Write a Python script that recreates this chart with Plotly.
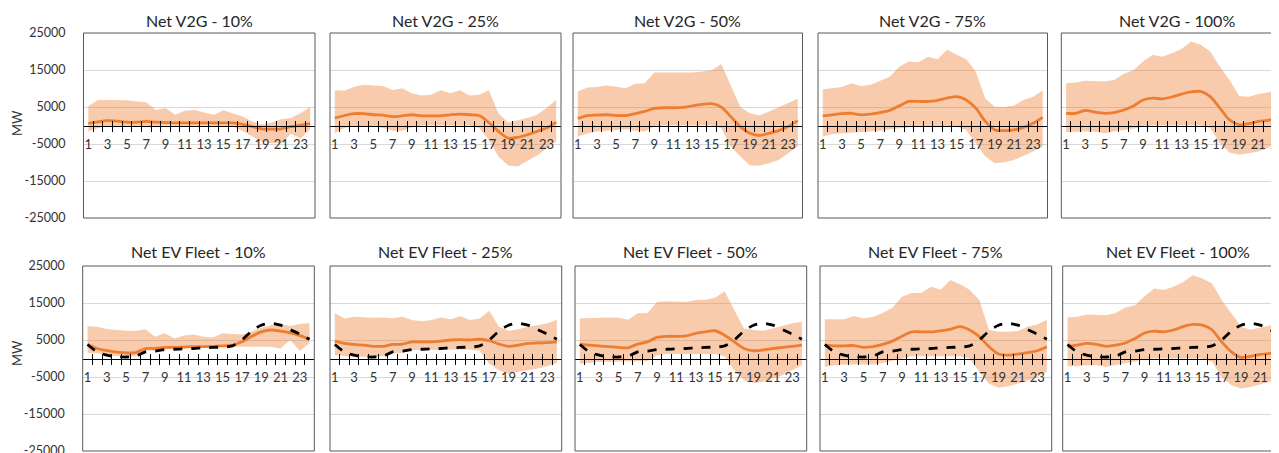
import plotly.graph_objects as go

# ---------------- data ----------------
hours = list(range(1, 25))
x_tick_labels = [str(h) for h in hours if h % 2 == 1]
y_ticks = [-25000, -15000, -5000, 5000, 15000, 25000]
y_tick_labels = [str(v) for v in y_ticks]

titles_top = ["Net V2G - 10%", "Net V2G - 25%", "Net V2G - 50%", "Net V2G - 75%", "Net V2G - 100%"]
titles_bottom = ["Net EV Fleet - 10%", "Net EV Fleet - 25%", "Net EV Fleet - 50%",
                 "Net EV Fleet - 75%", "Net EV Fleet - 100%"]

v2g_10_mean = [600, 1000, 1300, 1200, 900, 900, 1100, 900, 800, 700, 700, 700, 700, 700, 700, 700, 300, -300, -900, -1000, -900, -300, 100, 500]
v2g_10_upper = [5300, 6900, 6900, 6900, 6800, 6500, 6300, 4200, 4700, 2900, 4000, 4200, 3500, 2900, 4100, 3300, 2400, 1100, 300, 800, 1700, 2000, 3300, 5000]
v2g_10_lower = [-1600, -700, -300, -200, -100, -200, -300, -100, 0, -100, 0, -100, -100, 0, -100, -300, -1500, -3000, -4300, -4800, -4800, -2200, -3500, -1000]

v2g_25_mean = [2000, 2700, 3200, 3200, 2900, 2800, 2400, 2600, 2900, 2600, 2600, 2600, 2900, 3100, 2900, 2700, 800, -1600, -3400, -3200, -2500, -1600, -700, 900]
v2g_25_upper = [9500, 9400, 10500, 11000, 10800, 10700, 9600, 10100, 8700, 8100, 8300, 9500, 8700, 9500, 8100, 8300, 9500, 3300, 800, 1400, 2000, 2900, 4700, 6900]
v2g_25_lower = [-2100, -700, -300, -100, -300, -700, -1400, -1400, -500, 0, 0, 0, 0, 0, 0, -700, -3900, -8400, -10800, -11100, -9700, -8100, -6300, -4300]

v2g_50_mean = [1900, 2700, 2800, 2900, 2700, 2700, 3200, 3800, 4600, 4800, 4800, 4900, 5300, 5700, 5900, 5000, 2400, -300, -2100, -2700, -2100, -1400, -300, 1300]
v2g_50_upper = [9200, 10300, 10400, 10800, 10500, 10100, 11300, 11400, 14300, 14300, 14100, 14100, 14300, 14600, 14900, 16600, 10700, 5000, 3300, 2700, 3800, 5000, 6000, 7200]
v2g_50_lower = [-3000, -2100, -1600, -1400, -1300, -1000, -1400, -1600, -300, 0, 0, 0, 0, 0, 0, -700, -5700, -8400, -10800, -10800, -10200, -9300, -7500, -5700]

v2g_75_mean = [2600, 2900, 3200, 3300, 2900, 3100, 3500, 4100, 5300, 6500, 6500, 6500, 6800, 7400, 7800, 6900, 4700, 1100, -1200, -1400, -1200, -500, 600, 2200]
v2g_75_upper = [9800, 10100, 10400, 11400, 10700, 11000, 12100, 13200, 15900, 17300, 17100, 18600, 17900, 20500, 19100, 17900, 14600, 7200, 5100, 5000, 5400, 6900, 7800, 9500]
v2g_75_lower = [-3000, -2300, -2100, -1900, -1900, -1700, -1400, -1000, -700, -500, -300, -300, -300, -300, -300, -1200, -4800, -8400, -10200, -9900, -9300, -8200, -7000, -5700]

v2g_100_mean = [3300, 3300, 4100, 3600, 3300, 3500, 4200, 5300, 6900, 7400, 7200, 7700, 8500, 9100, 9200, 7800, 4700, 1500, 200, 500, 1100, 1400, 2000, 2700]
v2g_100_upper = [11400, 11600, 12100, 12100, 11900, 12300, 14000, 14900, 17300, 19100, 18600, 19500, 20700, 22700, 21800, 20000, 15900, 12300, 8000, 7800, 8500, 8900, 9600, 10500]
v2g_100_lower = [-1800, -1600, -1600, -1700, -2100, -1600, -1200, -700, -300, 0, 0, 0, 0, 0, 0, -700, -4800, -7300, -7900, -7500, -7000, -6100, -4800, -3400]

baseline_charging = [3800, 1800, 900, 500, 400, 600, 1800, 2000, 2400, 2500, 2600, 2700, 2900, 3000, 3100, 3400, 5000, 7400, 9000, 9500, 9000, 7800, 6600, 5200]

ev_10_mean = [3800, 2700, 2100, 1700, 1500, 1600, 2700, 2700, 3000, 3000, 3100, 3200, 3200, 3300, 3400, 3600, 4500, 6000, 7200, 7700, 7400, 6900, 6200, 5200]
ev_10_upper = [8700, 8600, 8000, 7700, 7500, 7400, 7900, 5900, 6800, 5400, 6200, 6500, 5900, 5700, 6800, 6600, 6500, 7200, 8300, 9000, 9300, 8800, 9300, 9500]
ev_10_lower = [1500, 1400, 900, 600, 500, 600, 2100, 2100, 2400, 2700, 2700, 2900, 3000, 3100, 3200, 3200, 3200, 3200, 3200, 3200, 2700, 5000, 2100, 4100]

ev_25_mean = [4700, 4100, 3800, 3600, 3300, 3300, 3800, 3900, 4500, 4500, 4500, 4700, 5000, 5100, 5000, 5200, 4800, 3900, 3300, 3600, 4100, 4200, 4300, 4500]
ev_25_upper = [12200, 10800, 11300, 11100, 11000, 11100, 10900, 11300, 10400, 10100, 10400, 11100, 10600, 11400, 10400, 10800, 12900, 8600, 7500, 7900, 8600, 9000, 9500, 10500]
ev_25_lower = [900, 600, 500, 500, 500, 600, 1400, 1500, 2300, 2300, 2300, 2300, 2400, 2400, 2400, 2100, -1400, -3200, -4100, -3600, -3200, -2700, -2100, -1200]

ev_50_mean = [3900, 3600, 3400, 3200, 3000, 2900, 3900, 4500, 5700, 6000, 6000, 6100, 6800, 7200, 7500, 6300, 4500, 2700, 2100, 2300, 2700, 3000, 3300, 3600]
ev_50_upper = [10800, 11000, 11000, 11100, 11000, 10500, 12200, 12300, 15300, 15500, 15300, 15300, 15800, 15900, 16400, 18200, 13100, 8100, 7700, 7500, 8100, 8800, 9500, 9900]
ev_50_lower = [-1400, -1100, -900, -900, -900, -700, -700, -700, 900, 1200, 1200, 1200, 1200, 1200, 1200, 600, -3200, -5900, -6600, -6300, -5400, -4500, -3200, -1800]

ev_75_mean = [3600, 3400, 3400, 3500, 3000, 3200, 3800, 4700, 6000, 7200, 7200, 7200, 7500, 7900, 8600, 7700, 5900, 3200, 1200, 900, 1200, 1600, 2100, 3200]
ev_75_upper = [10600, 10500, 10600, 11500, 10800, 11300, 12300, 13700, 16700, 17700, 17700, 19400, 18600, 21200, 20100, 18600, 15800, 7700, 7200, 7200, 7400, 8600, 9200, 10500]
ev_75_lower = [-2300, -1800, -1600, -1600, -1800, -1600, -1200, -600, 0, 600, 600, 600, 600, 600, 600, 0, -3600, -6800, -7900, -7500, -6800, -6000, -5000, -3600]

ev_100_mean = [3300, 3600, 4100, 3800, 3300, 3600, 4200, 5400, 6900, 7400, 7200, 7700, 8600, 9200, 9000, 7700, 4500, 1800, 300, 600, 1100, 1400, 1800, 2400]
ev_100_upper = [11100, 11300, 11900, 11900, 11700, 12300, 13800, 14400, 16800, 18900, 18500, 19400, 20700, 22500, 21600, 20300, 15800, 12200, 8600, 7800, 8400, 9000, 9500, 10400]
ev_100_lower = [-2100, -2100, -1800, -1800, -2300, -1800, -1200, -600, -300, 0, 0, 0, 0, 0, 0, -900, -5000, -7200, -8100, -7700, -7000, -6300, -5000, -3600]

top_series = [(v2g_10_mean, v2g_10_upper, v2g_10_lower), (v2g_25_mean, v2g_25_upper, v2g_25_lower),
              (v2g_50_mean, v2g_50_upper, v2g_50_lower), (v2g_75_mean, v2g_75_upper, v2g_75_lower),
              (v2g_100_mean, v2g_100_upper, v2g_100_lower)]
bottom_series = [(ev_10_mean, ev_10_upper, ev_10_lower), (ev_25_mean, ev_25_upper, ev_25_lower),
                 (ev_50_mean, ev_50_upper, ev_50_lower), (ev_75_mean, ev_75_upper, ev_75_lower),
                 (ev_100_mean, ev_100_upper, ev_100_lower)]

# ---------------- layout geometry ----------------
W, H = 1300, 453          # figure larger than the window: last column is cut by the window edge
OFF = 8                   # page body margin
FONT = "Lato"
ORANGE = "#ED7D31"
BAND = "rgba(237,125,49,0.40)"
GRID = "#d9d9d9"
BORDER = "#595959"
TXT = "#333333"

# plot-area (left, right) in screen px
cols_top = [(83.5, 315), (330, 561), (573, 802.5), (818, 1047.5), (1061.3, 1292)]
cols_bot = [(82.7, 314.3), (330, 561.7), (575, 806.7), (820, 1051.7), (1062.7, 1294)]
rows = [(33, 218), (266, 451)]  # (top, bottom) screen px
title_y = [20.7, 251.7]
mw_y = [123, 353]


def px_x(v):
    return (v - OFF) / W


def px_y(v):
    return 1 - (v - OFF) / H


boundaries = [h + 0.5 for h in hours[:-1]]
odd_hours = [h for h in hours if h % 2 == 1]

fig = go.Figure()
layout = dict(template="none", width=W, height=H, margin=dict(l=0, r=0, t=0, b=0, pad=0),
              paper_bgcolor="white", plot_bgcolor="white", showlegend=False,
              font=dict(family=FONT, color=TXT))
shapes = []
annotations = []

idx = 0
for r, (series, cols, titles) in enumerate([(top_series, cols_top, titles_top),
                                            (bottom_series, cols_bot, titles_bottom)]):
    top_px, bot_px = rows[r]
    ydom = [px_y(bot_px), px_y(top_px)]
    ymid = (ydom[0] + ydom[1]) / 2
    for c in range(5):
        idx += 1
        mean, upper, lower = series[c]
        left, right = cols[c]
        xdom = [px_x(left), px_x(right)]
        xrange = [0.5, len(hours) + 0.5]

        xa = "x" if idx == 1 else f"x{idx}"
        ya = "y" if idx == 1 else f"y{idx}"
        xkey = "xaxis" if idx == 1 else f"xaxis{idx}"
        ykey = "yaxis" if idx == 1 else f"yaxis{idx}"
        ox = f"x{idx + 10}"
        oxkey = f"xaxis{idx + 10}"

        fig.add_trace(go.Scatter(x=hours, y=upper, mode="lines", line=dict(width=0, color=BAND),
                                 xaxis=xa, yaxis=ya, hoverinfo="skip"))
        fig.add_trace(go.Scatter(x=hours, y=lower, mode="lines", line=dict(width=0, color=BAND),
                                 fill="tonexty", fillcolor=BAND, xaxis=xa, yaxis=ya, hoverinfo="skip"))
        fig.add_trace(go.Scatter(x=hours, y=mean, mode="lines",
                                 line=dict(color=ORANGE, width=2.8, shape="spline", smoothing=0.8),
                                 xaxis=xa, yaxis=ya))
        if r == 1:
            fig.add_trace(go.Scatter(x=hours, y=baseline_charging, mode="lines",
                                     line=dict(color="black", width=2.8, dash="dash",
                                               shape="spline", smoothing=0.8),
                                     xaxis=xa, yaxis=ya))
        # helper trace so the overlay axis (upward tick marks) is drawn
        fig.add_trace(go.Scatter(x=[hours[0]], y=[0], mode="markers", marker=dict(opacity=0),
                                 xaxis=ox, yaxis=ya, hoverinfo="skip"))

        layout[xkey] = dict(domain=xdom, range=xrange, anchor="free", position=ymid,
                            tickmode="array", tickvals=odd_hours, ticktext=x_tick_labels,
                            ticks="", showline=True, linecolor="black", linewidth=1,
                            showgrid=False, zeroline=False, ticklabelstandoff=7, automargin=False,
                            tickfont=dict(family=FONT, size=13, color=TXT),
                            minor=dict(tickmode="array", tickvals=boundaries, ticks="outside",
                                       ticklen=5, tickwidth=1, tickcolor="black", showgrid=False),
                            fixedrange=True)
        layout[oxkey] = dict(overlaying=xa, range=xrange, anchor="free", position=ymid,
                             tickmode="array", tickvals=boundaries, ticks="inside", ticklen=5,
                             tickwidth=1, tickcolor="black", showticklabels=False, automargin=False,
                             showline=False, showgrid=False, zeroline=False, fixedrange=True)
        layout[ykey] = dict(domain=ydom, range=[-25000, 25000], anchor=xa,
                            tickmode="array", tickvals=y_ticks, ticktext=y_tick_labels,
                            showgrid=True, gridcolor=GRID,
                            gridwidth=1, zeroline=False, showline=False, ticks="",
                            showticklabels=(c == 0), ticklabelstandoff=17, automargin=False,
                            tickfont=dict(family=FONT, size=12.5, color=TXT),
                            fixedrange=True)

        shapes.append(dict(type="rect", xref=f"{xa} domain", yref=f"{ya} domain",
                           x0=0, x1=1, y0=0, y1=1,
                           line=dict(color=BORDER, width=1), layer="above"))
        annotations.append(dict(text=titles[c], xref="paper", yref="paper",
                                x=px_x((left + right) / 2), y=px_y(title_y[r]),
                                xanchor="center", yanchor="middle", showarrow=False,
                                font=dict(family=FONT, size=16, color="#262626")))
    annotations.append(dict(text="MW", xref="paper", yref="paper", x=px_x(17), y=px_y(mw_y[r]),
                            xanchor="center", yanchor="middle", textangle=-90, showarrow=False,
                            font=dict(family=FONT, size=13, color=TXT)))

layout["shapes"] = shapes
layout["annotations"] = annotations
fig.update_layout(**layout)
fig.write_html("out.html")
